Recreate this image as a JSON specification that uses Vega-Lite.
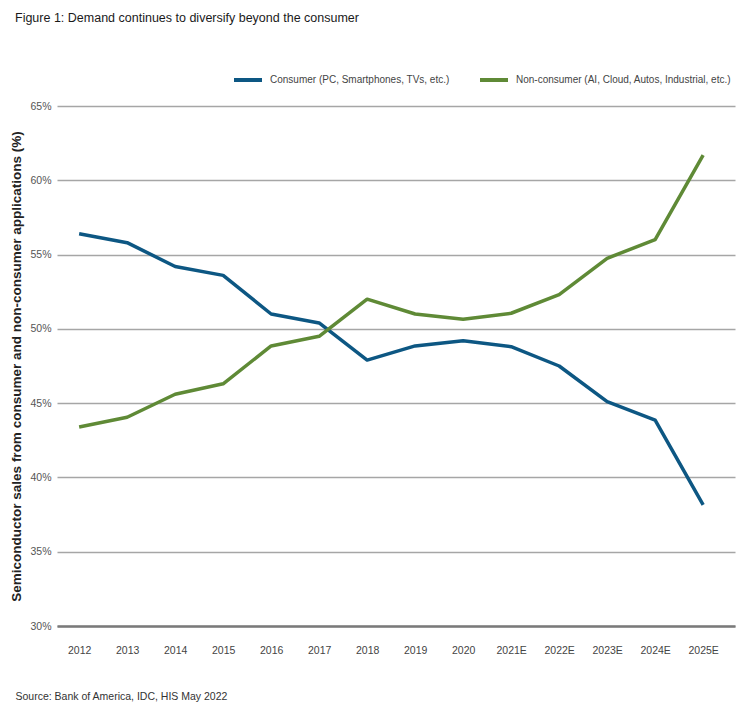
{
  "$schema": "https://vega.github.io/schema/vega-lite/v6.json",
  "autosize": "none",
  "width": 678,
  "height": 520,
  "padding": {"left": 57, "top": 106, "right": 6, "bottom": 85},
  "background": "white",
  "config": {
    "view": {"stroke": null},
    "font": "Liberation Sans, Arial, sans-serif"
  },
  "title": {
    "text": "Figure 1: Demand continues to diversify beyond the consumer",
    "anchor": "start",
    "frame": "group",
    "dx": -42,
    "offset": 40,
    "font": "Liberation Sans, Arial, sans-serif",
    "fontSize": 12.5,
    "fontWeight": "normal",
    "color": "#1a1a1a"
  },
  "data": {
    "values": [
      {"year": "2012", "series": "Consumer (PC, Smartphones, TVs, etc.)", "value": 56.4},
      {"year": "2013", "series": "Consumer (PC, Smartphones, TVs, etc.)", "value": 55.8},
      {"year": "2014", "series": "Consumer (PC, Smartphones, TVs, etc.)", "value": 54.2},
      {"year": "2015", "series": "Consumer (PC, Smartphones, TVs, etc.)", "value": 53.6},
      {"year": "2016", "series": "Consumer (PC, Smartphones, TVs, etc.)", "value": 51.0},
      {"year": "2017", "series": "Consumer (PC, Smartphones, TVs, etc.)", "value": 50.4},
      {"year": "2018", "series": "Consumer (PC, Smartphones, TVs, etc.)", "value": 47.9},
      {"year": "2019", "series": "Consumer (PC, Smartphones, TVs, etc.)", "value": 48.85},
      {"year": "2020", "series": "Consumer (PC, Smartphones, TVs, etc.)", "value": 49.2},
      {"year": "2021E", "series": "Consumer (PC, Smartphones, TVs, etc.)", "value": 48.8},
      {"year": "2022E", "series": "Consumer (PC, Smartphones, TVs, etc.)", "value": 47.5},
      {"year": "2023E", "series": "Consumer (PC, Smartphones, TVs, etc.)", "value": 45.1},
      {"year": "2024E", "series": "Consumer (PC, Smartphones, TVs, etc.)", "value": 43.85},
      {"year": "2025E", "series": "Consumer (PC, Smartphones, TVs, etc.)", "value": 38.15},
      {"year": "2012", "series": "Non-consumer (AI, Cloud, Autos, Industrial, etc.)", "value": 43.4},
      {"year": "2013", "series": "Non-consumer (AI, Cloud, Autos, Industrial, etc.)", "value": 44.05},
      {"year": "2014", "series": "Non-consumer (AI, Cloud, Autos, Industrial, etc.)", "value": 45.6},
      {"year": "2015", "series": "Non-consumer (AI, Cloud, Autos, Industrial, etc.)", "value": 46.3},
      {"year": "2016", "series": "Non-consumer (AI, Cloud, Autos, Industrial, etc.)", "value": 48.85},
      {"year": "2017", "series": "Non-consumer (AI, Cloud, Autos, Industrial, etc.)", "value": 49.5},
      {"year": "2018", "series": "Non-consumer (AI, Cloud, Autos, Industrial, etc.)", "value": 52.0},
      {"year": "2019", "series": "Non-consumer (AI, Cloud, Autos, Industrial, etc.)", "value": 51.0},
      {"year": "2020", "series": "Non-consumer (AI, Cloud, Autos, Industrial, etc.)", "value": 50.65},
      {"year": "2021E", "series": "Non-consumer (AI, Cloud, Autos, Industrial, etc.)", "value": 51.05},
      {"year": "2022E", "series": "Non-consumer (AI, Cloud, Autos, Industrial, etc.)", "value": 52.3},
      {"year": "2023E", "series": "Non-consumer (AI, Cloud, Autos, Industrial, etc.)", "value": 54.75},
      {"year": "2024E", "series": "Non-consumer (AI, Cloud, Autos, Industrial, etc.)", "value": 56.0},
      {"year": "2025E", "series": "Non-consumer (AI, Cloud, Autos, Industrial, etc.)", "value": 61.7}
    ]
  },
  "mark": {"type": "line", "strokeWidth": 3.5, "strokeJoin": "round"},
  "encoding": {
    "x": {
      "field": "year",
      "type": "ordinal",
      "sort": null,
      "scale": {"type": "point", "padding": 0.5625, "align": 0.41},
      "axis": {
        "title": "Source: Bank of America, IDC, HIS May 2022",
        "titleX": -42,
        "titleY": 70,
        "titleAnchor": "start",
        "titleAlign": "left",
        "titleBaseline": "middle",
        "titleFontSize": 10.5,
        "titleFontWeight": "normal",
        "titleColor": "#333",
        "labelAngle": 0,
        "labelFontSize": 10.5,
        "labelColor": "#444",
        "labelPadding": 24,
        "labelBaseline": "middle",
        "ticks": false,
        "grid": false,
        "domain": true,
        "domainColor": "#7a7a7a",
        "domainWidth": 2.5
      }
    },
    "y": {
      "field": "value",
      "type": "quantitative",
      "scale": {"domain": [30, 65], "nice": false, "zero": false},
      "axis": {
        "title": "Semiconductor sales from consumer and non-consumer applications (%)",
        "titleFontSize": 13.5,
        "titleFontWeight": "bold",
        "titleColor": "#222",
        "titlePadding": 6,
        "values": [30, 35, 40, 45, 50, 55, 60, 65],
        "labelExpr": "datum.value + '%'",
        "labelFontSize": 10.5,
        "labelColor": "#555",
        "labelPadding": 6,
        "ticks": false,
        "domain": false,
        "grid": true,
        "gridColor": "#a6a6a6",
        "gridWidth": 1.5
      }
    },
    "color": {
      "field": "series",
      "type": "nominal",
      "scale": {
        "domain": ["Consumer (PC, Smartphones, TVs, etc.)", "Non-consumer (AI, Cloud, Autos, Industrial, etc.)"],
        "range": ["#0d5783", "#5f8a36"]
      },
      "legend": {
        "title": null,
        "orient": "none",
        "legendX": 175,
        "legendY": -42,
        "direction": "horizontal",
        "symbolType": "stroke",
        "symbolStrokeWidth": 4,
        "symbolSize": 784,
        "labelFontSize": 10,
        "labelColor": "#444",
        "labelOffset": 6,
        "labelLimit": 400,
        "columnPadding": 22
      }
    }
  }
}
